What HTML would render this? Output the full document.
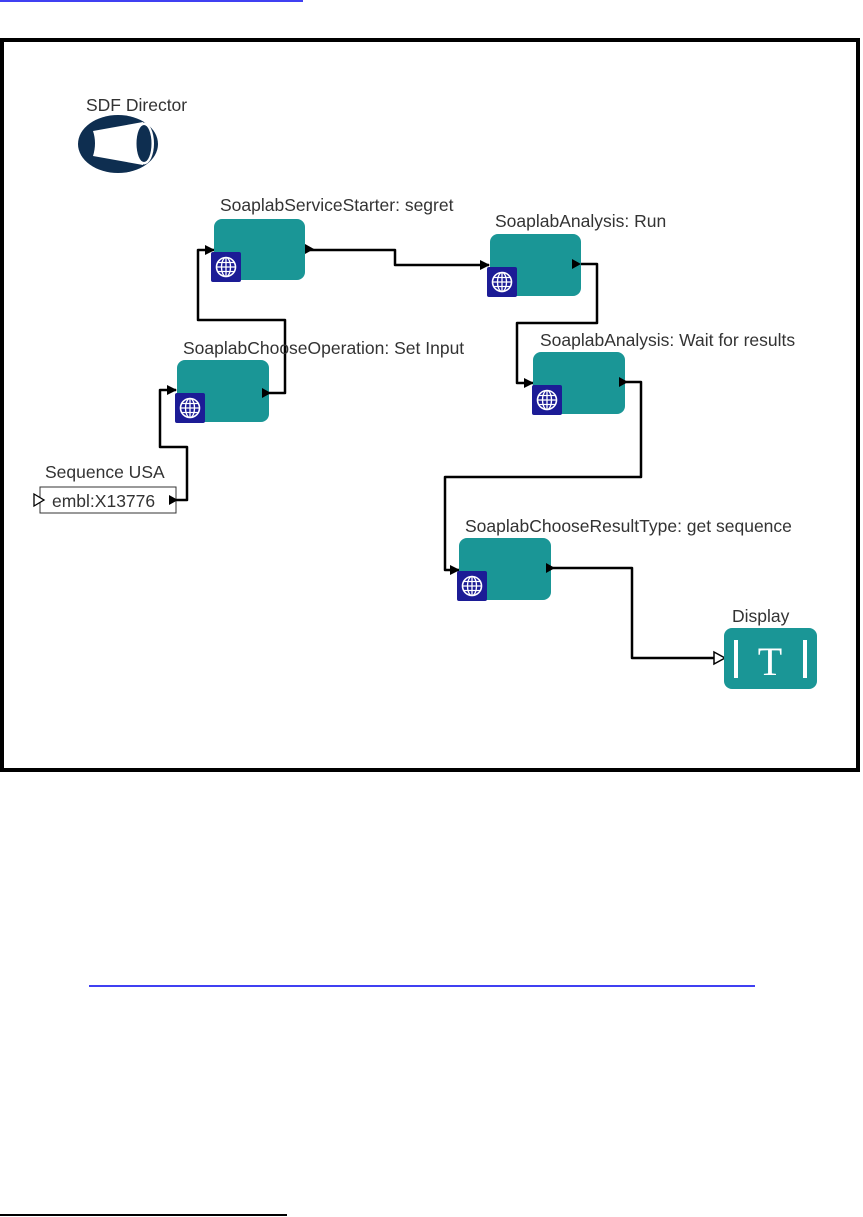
<!DOCTYPE html>
<html><head><meta charset="utf-8"><style>
html,body{margin:0;padding:0;background:#fff;}
svg{display:block;}
text{font-family:"Liberation Sans",Arial,sans-serif;fill:#333;}
</style></head><body>
<svg width="863" height="1217" viewBox="0 0 863 1217" xmlns="http://www.w3.org/2000/svg">
<defs>
<marker id="a" markerWidth="10" markerHeight="10" refX="9" refY="5" orient="auto" markerUnits="userSpaceOnUse"><path d="M0,0 L10,5 L0,10 z" fill="#000"/></marker>
<g id="globe">
<rect x="0" y="0" width="30" height="30" rx="2" fill="#1c1c96"/>
<circle cx="15" cy="15" r="9.5" fill="none" stroke="#fff" stroke-width="1.6"/>
<ellipse cx="15" cy="15" rx="4.5" ry="9.5" fill="none" stroke="#fff" stroke-width="1.3"/>
<line x1="5.5" y1="15" x2="24.5" y2="15" stroke="#fff" stroke-width="1.3"/>
<line x1="7" y1="10.5" x2="23" y2="10.5" stroke="#fff" stroke-width="1.2"/>
<line x1="7" y1="19.5" x2="23" y2="19.5" stroke="#fff" stroke-width="1.2"/>
<line x1="15" y1="5.5" x2="15" y2="24.5" stroke="#fff" stroke-width="1.3"/>
</g>
</defs>
<line x1="0" y1="1" x2="303" y2="1" stroke="#0000ee" stroke-width="1.5"/>
<rect x="2" y="40" width="856" height="730" fill="none" stroke="#000" stroke-width="4"/>
<!-- director -->
<text x="86" y="111" font-size="17.5">SDF Director</text>
<ellipse cx="118" cy="144" rx="40" ry="29" fill="#0e2e50"/>
<path d="M93,131 L143,122 L143,165 L93,156 Q97,143 93,131 z" fill="#fff"/>
<ellipse cx="144" cy="143.5" rx="10" ry="21" fill="#fff"/>
<ellipse cx="144" cy="143.5" rx="7.5" ry="18.5" fill="#0e2e50"/>
<!-- connectors -->
<g fill="none" stroke="#000" stroke-width="2.5" stroke-linejoin="round">
<path d="M176,500 H187 V447 H160 V390 H176" marker-end="url(#a)"/>
<path d="M269,393 H285 V320 H198 V250 H214" marker-end="url(#a)"/>
<path d="M305,250 H395 V265 H489" marker-end="url(#a)"/>
<path d="M581,264 H597 V323 H517 V383 H533" marker-end="url(#a)"/>
<path d="M625,382 H641 V477 H445 V570 H459" marker-end="url(#a)"/>
<path d="M551,568 H632 V658 H714"/>
</g>
<path d="M714,652 L725,658 L714,664 z" fill="#fff" stroke="#000" stroke-width="1.5"/>
<g font-size="17.5">
<text x="220" y="211">SoaplabServiceStarter: segret</text>
<rect x="214" y="219" width="91" height="61" rx="8" fill="#1a9696"/>
<use href="#globe" x="211" y="252"/>
<path d="M305,244 L314,249 L305,254z" fill="#000"/>

<text x="495" y="227">SoaplabAnalysis: Run</text>
<rect x="490" y="234" width="91" height="62" rx="8" fill="#1a9696"/>
<use href="#globe" x="487" y="267"/>
<path d="M572,259 L581,264 L572,269z" fill="#000"/>

<text x="183" y="354">SoaplabChooseOperation: Set Input</text>
<rect x="177" y="360" width="92" height="62" rx="8" fill="#1a9696"/>
<use href="#globe" x="175" y="393"/>
<path d="M262,388 L271,393 L262,398z" fill="#000"/>

<text x="540" y="346">SoaplabAnalysis: Wait for results</text>
<rect x="533" y="352" width="92" height="62" rx="8" fill="#1a9696"/>
<use href="#globe" x="532" y="385"/>
<path d="M619,377 L628,382 L619,387z" fill="#000"/>

<text x="465" y="532">SoaplabChooseResultType: get sequence</text>
<rect x="459" y="538" width="92" height="62" rx="8" fill="#1a9696"/>
<use href="#globe" x="457" y="571"/>
<path d="M546,563 L555,568 L546,573z" fill="#000"/>

<text x="732" y="622">Display</text>
<rect x="724" y="628" width="93" height="61" rx="8" fill="#1a9696"/>
<rect x="734" y="640" width="4" height="38" fill="#fff"/>
<rect x="803" y="640" width="4" height="38" fill="#fff"/>
<text x="770" y="675" font-size="40" text-anchor="middle" style="font-family:'Liberation Serif',serif;fill:#fff">T</text>

<text x="45" y="478">Sequence USA</text>
<rect x="40" y="487" width="136" height="26" fill="#fff" stroke="#333" stroke-width="1"/>
<text x="52" y="507">embl:X13776</text>
<path d="M34,494 L44,500 L34,506z" fill="#fff" stroke="#000" stroke-width="1.3"/>
<path d="M169,495 L178,500 L169,505z" fill="#000"/>
</g>
<line x1="89" y1="986" x2="755" y2="986" stroke="#0000ee" stroke-width="1.5"/>
<line x1="0" y1="1215" x2="287" y2="1215" stroke="#000" stroke-width="2"/>
</svg>
</body></html>
